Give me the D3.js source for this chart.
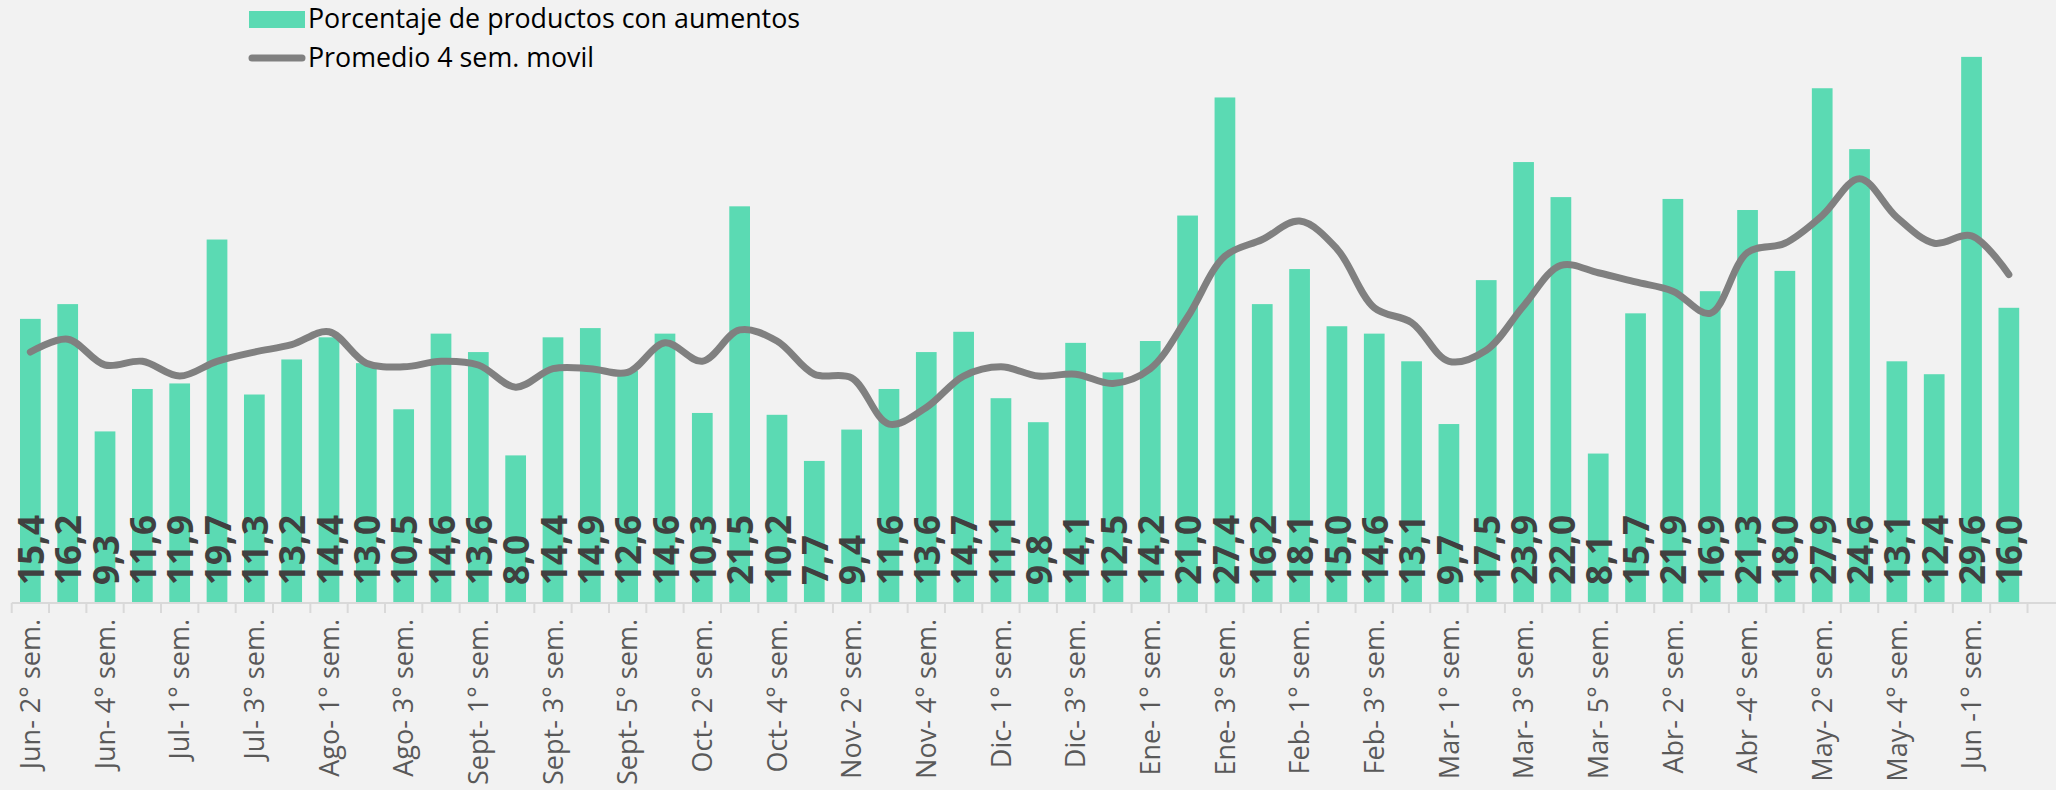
<!DOCTYPE html>
<html>
<head>
<meta charset="utf-8">
<script src="https://cdn.jsdelivr.net/npm/d3@7"></script>
<style>
  html, body { margin: 0; padding: 0; background: #f2f2f2; }
  svg { display: block; }
</style>
</head>
<body>
<script>
// semanas (solo se ve una de cada dos en el eje)
var weeks = [
  'Jun- 2° sem.', 'Jun- 3° sem.', 'Jun- 4° sem.', 'Jun- 5° sem.',
  'Jul- 1° sem.', 'Jul- 2° sem.', 'Jul- 3° sem.', 'Jul- 4° sem.',
  'Ago- 1° sem.', 'Ago- 2° sem.', 'Ago- 3° sem.', 'Ago- 4° sem.',
  'Sept- 1° sem.', 'Sept- 2° sem.', 'Sept- 3° sem.', 'Sept- 4° sem.', 'Sept- 5° sem.',
  'Oct- 1° sem.', 'Oct- 2° sem.', 'Oct- 3° sem.', 'Oct- 4° sem.',
  'Nov- 1° sem.', 'Nov- 2° sem.', 'Nov- 3° sem.', 'Nov- 4° sem.', 'Nov- 5° sem.',
  'Dic- 1° sem.', 'Dic- 2° sem.', 'Dic- 3° sem.', 'Dic- 4° sem.',
  'Ene- 1° sem.', 'Ene- 2° sem.', 'Ene- 3° sem.', 'Ene- 4° sem.',
  'Feb- 1° sem.', 'Feb- 2° sem.', 'Feb- 3° sem.', 'Feb- 4° sem.',
  'Mar- 1° sem.', 'Mar- 2° sem.', 'Mar- 3° sem.', 'Mar- 4° sem.', 'Mar- 5° sem.',
  'Abr- 1° sem.', 'Abr- 2° sem.', 'Abr- 3° sem.', 'Abr -4° sem.',
  'May- 1° sem.', 'May- 2° sem.', 'May- 3° sem.', 'May- 4° sem.', 'May- 5° sem.',
  'Jun -1° sem.', 'Jun -2° sem.'
];

// % de productos con aumentos
var pct = [
  15.4, 16.2, 9.3, 11.6, 11.9, 19.7, 11.3, 13.2, 14.4, 13.0,
  10.5, 14.6, 13.6, 8.0, 14.4, 14.9, 12.6, 14.6, 10.3, 21.5,
  10.2, 7.7, 9.4, 11.6, 13.6, 14.7, 11.1, 9.8, 14.1, 12.5,
  14.2, 21.0, 27.4, 16.2, 18.1, 15.0, 14.6, 13.1, 9.7, 17.5,
  23.9, 22.0, 8.1, 15.7, 21.9, 16.9, 21.3, 18.0, 27.9, 24.6,
  13.1, 12.4, 29.6, 16.0
];

var prom = [
  13.6, 14.3, 12.9, 13.1, 12.3, 13.1, 13.6, 14.0, 14.7, 13.0,
  12.8, 13.1, 12.9, 11.7, 12.7, 12.7, 12.5, 14.1, 13.1, 14.8,
  14.2, 12.4, 12.2, 9.7, 10.6, 12.3, 12.8, 12.3, 12.4, 11.9,
  12.7, 15.5, 18.8, 19.7, 20.7, 19.2, 16.0, 15.2, 13.1, 13.7,
  16.1, 18.3, 17.9, 17.4, 16.9, 15.7, 19.0, 19.5, 21.0, 23.0,
  20.9, 19.5, 19.9, 17.8
];

var legendNames = ['Porcentaje de productos con aumentos', 'Promedio 4 sem. movil'];

var W = 2056, H = 790;
var barColor = '#5bdab3', lineColor = '#808080';

var svg = d3.select('body').append('svg')
  .attr('width', W).attr('height', H)
  .style('background', '#f2f2f2');

var x = d3.scaleBand()
  .domain(weeks)
  .range([11.7, 11.7 + 54 * 37.33])
  .paddingInner(0.445)
  .paddingOuter(0.2225);

var y = d3.scaleLinear()
  .domain([0, 30])
  .range([603, 603 - 30 * 18.45]);

var cx = function(i) { return x(weeks[i]) + x.bandwidth() / 2; };

// barras
svg.append('g').selectAll('rect')
  .data(pct)
  .enter().append('rect')
  .attr('x', function(d, i) { return x(weeks[i]); })
  .attr('y', function(d) { return y(d); })
  .attr('width', x.bandwidth())
  .attr('height', function(d) { return y(0) - y(d); })
  .style('fill', barColor);

// eje x: linea + ticks entre categorias
var axisG = svg.append('g');
axisG.append('line')
  .attr('x1', x.range()[0]).attr('x2', W)
  .attr('y1', y(0)).attr('y2', y(0))
  .style('stroke', '#d9d9d9').style('stroke-width', 2);

var step = x.step();
axisG.selectAll('line.tk')
  .data(d3.range(weeks.length + 1))
  .enter().append('line')
  .attr('class', 'tk')
  .attr('x1', function(i) { return x.range()[0] + i * step; })
  .attr('x2', function(i) { return x.range()[0] + i * step; })
  .attr('y1', y(0)).attr('y2', y(0) + 10)
  .style('stroke', '#d9d9d9').style('stroke-width', 2);

axisG.selectAll('text')
  .data(weeks.filter(function(d, i) { return i % 2 == 0; }))
  .enter().append('text')
  .attr('transform', function(d) {
    return 'translate(' + (x(d) + x.bandwidth() / 2) + ',619) rotate(-90)';
  })
  .attr('dy', '0.36em')
  .style('text-anchor', 'end')
  .style('font-family', '"Open Sans", sans-serif')
  .style('font-size', '27px')
  .style('fill', '#595959')
  .text(function(d) { return d; });

// linea promedio movil
var line = d3.line()
  .x(function(d, i) { return cx(i); })
  .y(function(d) { return y(d); })
  .curve(d3.curveCatmullRom.alpha(0.5));

svg.append('path')
  .datum(prom)
  .attr('d', line)
  .style('fill', 'none')
  .style('stroke', lineColor)
  .style('stroke-width', 7)
  .style('stroke-linecap', 'round')
  .style('stroke-linejoin', 'round');

// etiquetas de valores (coma decimal)
svg.append('g').selectAll('text')
  .data(pct)
  .enter().append('text')
  .attr('transform', function(d, i) { return 'translate(' + (cx(i) + 1) + ',585) rotate(-90)'; })
  .attr('dy', '0.36em')
  .style('text-anchor', 'start')
  .style('font-family', '"Open Sans", sans-serif')
  .style('font-weight', 'bold')
  .style('font-size', '35px')
  .style('fill', '#404040')
  .text(function(d) { return d.toFixed(1).replace('.', ','); });

// leyenda
var leg = svg.append('g');
leg.append('rect')
  .attr('x', 249).attr('y', 11).attr('width', 56).attr('height', 17)
  .style('fill', barColor);
leg.append('line')
  .attr('x1', 252).attr('x2', 302).attr('y1', 58).attr('y2', 58)
  .style('stroke', lineColor).style('stroke-width', 7)
  .style('stroke-linecap', 'round');
leg.selectAll('text')
  .data(legendNames)
  .enter().append('text')
  .attr('x', 308)
  .attr('y', function(d, i) { return 28 + i * 39; })
  .style('font-family', '"Open Sans", sans-serif')
  .style('font-size', '26.8px')
  .style('fill', '#000')
  .text(function(d) { return d; });
</script>
</body>
</html>
